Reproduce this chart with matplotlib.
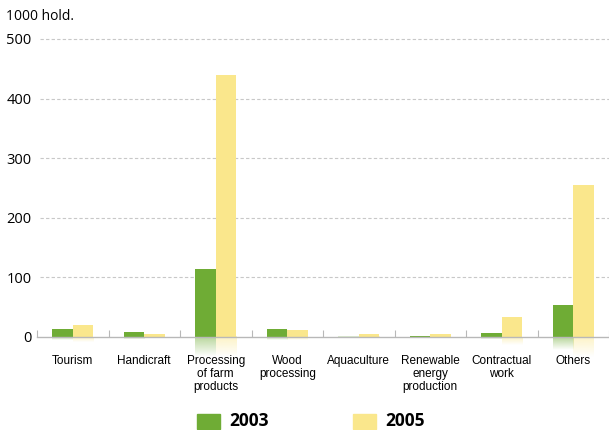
import numpy as np
import matplotlib
matplotlib.use("Agg")
import matplotlib.pyplot as plt
from matplotlib.colors import to_rgb

categories = ["Tourism", "Handicraft", "Processing\nof farm\nproducts", "Wood\nprocessing",
              "Aquaculture", "Renewable\nenergy\nproduction", "Contractual\nwork", "Others"]
v2003 = [13, 8, 114, 13, 0.5, 1.5, 6.5, 53]
v2005 = [20, 4.5, 439, 11, 4.5, 4.5, 33, 255]
yticks = [0, 100, 200, 300, 400, 500]

GREEN = "#6fac35"
YELLOW = "#fae78c"
W, H = 609, 430

fig = plt.figure(figsize=(W / 100, H / 100), dpi=100)
ax = fig.add_axes([37 / W, (H - 337) / H, (609 - 37) / W, (337 - 39) / H])

x = np.arange(len(categories))
bw = 0.285


def reflect(xc, val, color):
    # faded mirror image under the baseline
    h = min(val * 0.4, 34)
    if h <= 0:
        return
    n = 40
    img = np.zeros((n, 1, 4))
    img[:, 0, :3] = to_rgb(color)
    img[:, 0, 3] = np.linspace(0.5, 0.0, n)
    ax.imshow(img, extent=(xc - bw / 2, xc + bw / 2, -h, 0), origin="upper",
              aspect="auto", clip_on=False, zorder=1, interpolation="bilinear")


ax.bar(x - bw / 2, v2003, bw, color=GREEN, zorder=2)
ax.bar(x + bw / 2, v2005, bw, color=YELLOW, zorder=2)
for xi, a, b in zip(x, v2003, v2005):
    reflect(xi - bw / 2, a, GREEN)
    reflect(xi + bw / 2, b, YELLOW)

# dashed grid
for yv in yticks[1:]:
    ax.plot([-0.46, 7.5], [yv, yv], ls=(0, (3, 2)), lw=0.8, color="#c8c8c8",
            zorder=0, clip_on=False)

ax.set_xlim(-0.5, 7.5)
ax.set_ylim(0, 500)

for s in ["top", "right", "left"]:
    ax.spines[s].set_visible(False)
ax.spines["bottom"].set_color("#b8b8b8")
ax.spines["bottom"].set_linewidth(1.0)
ax.spines["bottom"].set_zorder(3)

ax.set_xticks(np.arange(-0.5, 8, 1.0))
ax.set_xticklabels([])
ax.tick_params(axis="x", which="major", direction="in", length=5, color="#b8b8b8")
ax.set_xticks(x, minor=True)
ax.set_xticklabels(categories, minor=True, fontsize=8.5, family="Liberation Sans",
                   linespacing=1.1, va="top")
ax.tick_params(axis="x", which="minor", length=0, pad=13)

ax.set_yticks(yticks)
ax.set_yticklabels([str(t) for t in yticks], fontsize=10.5, family="Open Sans")
ax.tick_params(axis="y", length=0, pad=4)

fig.text(6 / W, 1 - 17 / H, "1000 hold.", fontsize=10, family="Open Sans",
         va="center", ha="left")

# legend
for xs, col, lab in [(197, GREEN, "2003"), (353, YELLOW, "2005")]:
    fig.patches.append(plt.Rectangle((xs / W, 1 - 429 / H), 23 / W, 15 / H,
                                     color=col, transform=fig.transFigure))
    fig.text((xs + 32) / W, 1 - 421 / H, lab, fontsize=12.5, fontweight="bold",
             family="Open Sans", va="center", ha="left")

fig.savefig("out.png", dpi=100)
